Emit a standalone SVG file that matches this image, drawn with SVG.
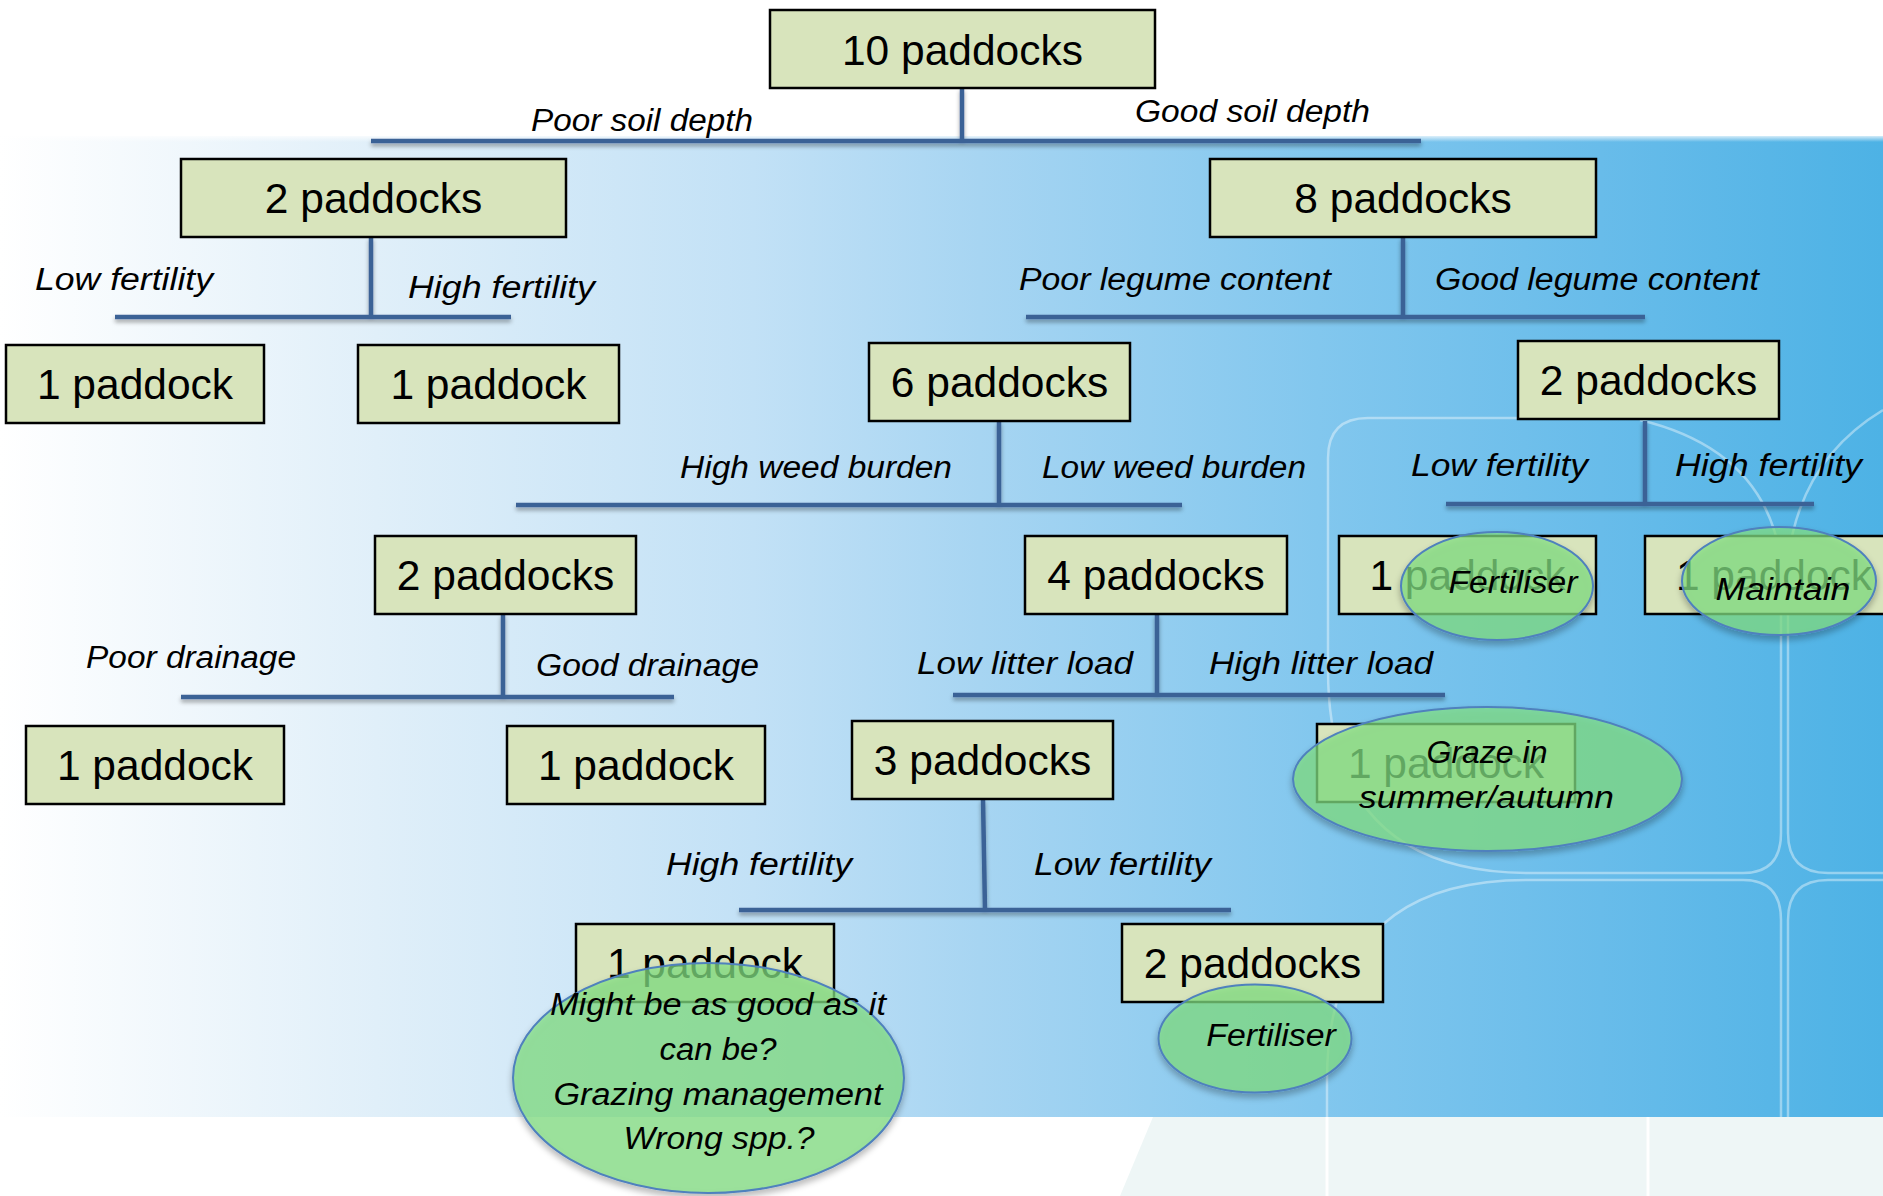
<svg xmlns="http://www.w3.org/2000/svg" width="1883" height="1196" viewBox="0 0 1883 1196">
  <defs>
    <linearGradient id="band" x1="0" y1="0" x2="1" y2="0">
      <stop offset="0" stop-color="#ffffff"/>
      <stop offset="0.2" stop-color="#e0eff9"/>
      <stop offset="0.4" stop-color="#c2e1f6"/>
      <stop offset="0.52" stop-color="#a7d5f2"/>
      <stop offset="0.7" stop-color="#82c7ee"/>
      <stop offset="0.85" stop-color="#68bcea"/>
      <stop offset="1" stop-color="#4db2e5"/>
    </linearGradient>
    <linearGradient id="topfade" x1="0" y1="0" x2="0" y2="1">
      <stop offset="0" stop-color="#ffffff" stop-opacity="1"/>
      <stop offset="1" stop-color="#ffffff" stop-opacity="0"/>
    </linearGradient>
    <filter id="lineShadow" x="-5%" y="-50%" width="110%" height="200%">
      <feDropShadow dx="0" dy="3" stdDeviation="2" flood-color="#000" flood-opacity="0.35"/>
    </filter>
    <filter id="ellShadow" x="-10%" y="-10%" width="120%" height="130%">
      <feDropShadow dx="0" dy="4" stdDeviation="3" flood-color="#000" flood-opacity="0.35"/>
    </filter>
    <clipPath id="bandClip"><rect x="0" y="136" width="1883" height="981"/></clipPath>
  </defs>
  <style>
    .box { fill: #d8e4bc; stroke: #000; stroke-width: 2.5; }
    .btxt { font-family: "Liberation Sans", Arial, sans-serif; font-size: 42.5px; fill: #000; text-anchor: middle; }
    .lbl { font-family: "Liberation Sans", Arial, sans-serif; font-size: 31px; font-style: italic; fill: #000; }
    .etxt { font-family: "Liberation Sans", Arial, sans-serif; font-size: 31px; font-style: italic; fill: #000; text-anchor: middle; }
    .conn { fill: none; stroke: #3b6296; stroke-width: 4.5; stroke-linecap: butt; }
    .ell { fill: #83e183; fill-opacity: 0.7; stroke: #4f81bd; stroke-width: 2; }
    .deco { fill: none; stroke: #ffffff; stroke-opacity: 0.4; stroke-width: 2.5; }
  </style>

  <!-- background -->
  <rect x="0" y="0" width="1883" height="1196" fill="#ffffff"/>
  <rect x="0" y="136" width="1883" height="981" fill="url(#band)"/>
  <rect x="0" y="134" width="1883" height="8" fill="url(#topfade)"/>
  <polygon points="1153,1117 1883,1117 1883,1196 1120,1196" fill="#eef6f6"/>
  <line x1="1327" y1="1117" x2="1327" y2="1196" stroke="#ffffff" stroke-width="3"/>
  <line x1="1648" y1="1117" x2="1648" y2="1196" stroke="#ffffff" stroke-width="3"/>
  <g clip-path="url(#bandClip)">
    <path class="deco" d="M1328,670 V458 Q1328,418 1368,418 H1640"/>
    <path class="deco" d="M1328,670 Q1328,873 1530,873 H1743 Q1781,873 1781,833 V560 Q1765,450 1640,420"/>
    <path class="deco" d="M1883,410 Q1800,460 1788,560 V833 Q1788,873 1828,873 H1883"/>
    <path class="deco" d="M1883,880 H1828 Q1788,880 1788,920 V1117"/>
    <path class="deco" d="M1327,1117 V1080 Q1327,880 1527,880 H1743 Q1781,880 1781,920 V1117"/>
  </g>

  <!-- connectors -->
  <g id="connectors">
    <g filter="url(#lineShadow)">
      <path class="conn" d="M962,88 V141 M371,141 H1421"/>
      <path class="conn" d="M371,237 V317 M115,317 H511"/>
      <path class="conn" d="M1403,237 V317 M1026,317 H1645"/>
      <path class="conn" d="M999,421 V505 M516,505 H1182"/>
      <path class="conn" d="M1645,421 V504 M1446,504 H1814"/>
      <path class="conn" d="M503,614 V697 M181,697 H674"/>
      <path class="conn" d="M1157,614 V695 M953,695 H1445"/>
      <path class="conn" d="M983,799 L985,910 M739,910 H1231"/>
    </g>
    <text class="lbl" x="531" y="131" textLength="222" lengthAdjust="spacingAndGlyphs">Poor soil depth</text>
    <text class="lbl" x="1135" y="122" textLength="235" lengthAdjust="spacingAndGlyphs">Good soil depth</text>
    <text class="lbl" x="35" y="290" textLength="178" lengthAdjust="spacingAndGlyphs">Low fertility</text>
    <text class="lbl" x="408" y="298" textLength="187" lengthAdjust="spacingAndGlyphs">High fertility</text>
    <text class="lbl" x="1019" y="290" textLength="312" lengthAdjust="spacingAndGlyphs">Poor legume content</text>
    <text class="lbl" x="1435" y="290" textLength="324" lengthAdjust="spacingAndGlyphs">Good legume content</text>
    <text class="lbl" x="680" y="478" textLength="272" lengthAdjust="spacingAndGlyphs">High weed burden</text>
    <text class="lbl" x="1042" y="478" textLength="264" lengthAdjust="spacingAndGlyphs">Low weed burden</text>
    <text class="lbl" x="1411" y="476" textLength="177" lengthAdjust="spacingAndGlyphs">Low fertility</text>
    <text class="lbl" x="1675" y="476" textLength="187" lengthAdjust="spacingAndGlyphs">High fertility</text>
    <text class="lbl" x="86" y="668" textLength="210" lengthAdjust="spacingAndGlyphs">Poor drainage</text>
    <text class="lbl" x="536" y="676" textLength="223" lengthAdjust="spacingAndGlyphs">Good drainage</text>
    <text class="lbl" x="917" y="674" textLength="216" lengthAdjust="spacingAndGlyphs">Low litter load</text>
    <text class="lbl" x="1209" y="674" textLength="224" lengthAdjust="spacingAndGlyphs">High litter load</text>
    <text class="lbl" x="666" y="875" textLength="186" lengthAdjust="spacingAndGlyphs">High fertility</text>
    <text class="lbl" x="1034" y="875" textLength="177" lengthAdjust="spacingAndGlyphs">Low fertility</text>
  </g>

  <!-- nodes -->
  <g id="n10"><rect class="box" x="770" y="10" width="385" height="78"/><text class="btxt" x="962.5" y="65">10 paddocks</text></g>
  <g id="n2a"><rect class="box" x="181" y="159" width="385" height="78"/><text class="btxt" x="373.5" y="213">2 paddocks</text></g>
  <g id="n8"><rect class="box" x="1210" y="159" width="386" height="78"/><text class="btxt" x="1403" y="213">8 paddocks</text></g>
  <g id="n1a"><rect class="box" x="6" y="345" width="258" height="78"/><text class="btxt" x="135" y="399">1 paddock</text></g>
  <g id="n1b"><rect class="box" x="358" y="345" width="261" height="78"/><text class="btxt" x="488.5" y="399">1 paddock</text></g>
  <g id="n6"><rect class="box" x="869" y="343" width="261" height="78"/><text class="btxt" x="999.5" y="397">6 paddocks</text></g>
  <g id="n2b"><rect class="box" x="1518" y="341" width="261" height="78"/><text class="btxt" x="1648.5" y="395">2 paddocks</text></g>
  <g id="n2c"><rect class="box" x="375" y="536" width="261" height="78"/><text class="btxt" x="505.5" y="590">2 paddocks</text></g>
  <g id="n4"><rect class="box" x="1025" y="536" width="262" height="78"/><text class="btxt" x="1156" y="590">4 paddocks</text></g>
  <g id="n1c"><rect class="box" x="1339" y="536" width="257" height="78"/><text class="btxt" x="1467.5" y="590">1 paddock</text></g>
  <g id="n1d"><rect class="box" x="1645" y="536" width="258" height="78"/><text class="btxt" x="1774" y="590">1 paddock</text></g>
  <g id="n1e"><rect class="box" x="26" y="726" width="258" height="78"/><text class="btxt" x="155" y="780">1 paddock</text></g>
  <g id="n1f"><rect class="box" x="507" y="726" width="258" height="78"/><text class="btxt" x="636" y="780">1 paddock</text></g>
  <g id="n3"><rect class="box" x="852" y="721" width="261" height="78"/><text class="btxt" x="982.5" y="775">3 paddocks</text></g>
  <g id="n1g"><rect class="box" x="1317" y="724" width="258" height="78"/><text class="btxt" x="1446" y="778">1 paddock</text></g>
  <g id="n1h"><rect class="box" x="576" y="924" width="258" height="78"/><text class="btxt" x="705" y="978">1 paddock</text></g>
  <g id="n2d"><rect class="box" x="1122" y="924" width="261" height="78"/><text class="btxt" x="1252.5" y="978">2 paddocks</text></g>

  <!-- annotation ellipses -->
  <g id="e-fertiliser1"><ellipse class="ell" filter="url(#ellShadow)" cx="1497" cy="586" rx="96" ry="54"/><text class="etxt" x="1513" y="593" textLength="129" lengthAdjust="spacingAndGlyphs">Fertiliser</text></g>
  <g id="e-maintain"><ellipse class="ell" filter="url(#ellShadow)" cx="1779" cy="581" rx="97" ry="54"/><text class="etxt" x="1783" y="600" textLength="135" lengthAdjust="spacingAndGlyphs">Maintain</text></g>
  <g id="e-graze"><ellipse class="ell" filter="url(#ellShadow)" cx="1487.5" cy="779" rx="194.5" ry="72"/><text class="etxt" x="1487" y="763" textLength="121" lengthAdjust="spacingAndGlyphs">Graze in</text><text class="etxt" x="1486.5" y="808" textLength="255" lengthAdjust="spacingAndGlyphs">summer/autumn</text></g>
  <g id="e-might"><ellipse class="ell" filter="url(#ellShadow)" cx="708.5" cy="1078" rx="195.5" ry="115"/>
    <text class="etxt" x="718" y="1015" textLength="336" lengthAdjust="spacingAndGlyphs">Might be as good as it</text>
    <text class="etxt" x="718" y="1060" textLength="117" lengthAdjust="spacingAndGlyphs">can be?</text>
    <text class="etxt" x="718" y="1104.5" textLength="329" lengthAdjust="spacingAndGlyphs">Grazing management</text>
    <text class="etxt" x="719" y="1149" textLength="191" lengthAdjust="spacingAndGlyphs">Wrong spp.?</text>
  </g>
  <g id="e-fertiliser2"><ellipse class="ell" filter="url(#ellShadow)" cx="1255" cy="1038.5" rx="96.5" ry="54"/><text class="etxt" x="1271" y="1046" textLength="129.5" lengthAdjust="spacingAndGlyphs">Fertiliser</text></g>
</svg>
